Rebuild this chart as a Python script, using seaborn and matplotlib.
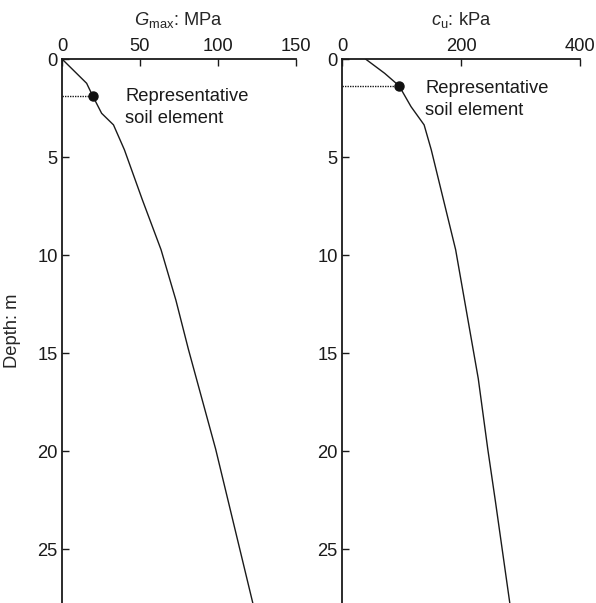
import matplotlib
matplotlib.use("Agg")
import matplotlib.pyplot as plt
import seaborn as sns
import pandas as pd

# Data
gmax_depth = [0, 1.24, 1.87, 2.77, 3.36, 4.63, 7.18, 9.73, 12.3, 14.8, 19.9, 27.75]
gmax_vals = [0, 15.8, 19.6, 25.4, 33.0, 40.0, 51.5, 63.5, 73.0, 81.0, 98.5, 122.3]
cu_depth = [0, 0.73, 1.37, 2.43, 3.36, 4.63, 9.73, 16.3, 19.9, 22.6, 27.75]
cu_vals = [39.5, 71.7, 96, 116, 138, 150, 191, 229, 245, 258, 282]
elem_gmax = (19.6, 1.87)
elem_cu = (96, 1.37)
gmax_ticks = [0, 50, 100, 150]
cu_ticks = [0, 200, 400]
depth_ticks = [0, 5, 10, 15, 20, 25]
annot = "Representative\nsoil element"

sns.set_theme(style="ticks")
plt.rcParams['font.family'] = ['Liberation Sans', 'DejaVu Sans']
plt.rcParams['mathtext.fontset'] = 'custom'
plt.rcParams['mathtext.rm'] = 'Liberation Sans'
plt.rcParams['mathtext.it'] = 'Liberation Sans:italic'

FS = 13.2
fig = plt.figure(figsize=(5.96, 6.03), dpi=100)
ax1 = fig.add_axes([62/596, 0.0, 234/596, 1 - 59/603])
ax2 = fig.add_axes([342/596, 0.0, 238/596, 1 - 59/603])

df1 = pd.DataFrame({"x": gmax_vals, "d": gmax_depth})
df2 = pd.DataFrame({"x": cu_vals, "d": cu_depth})

panels = [
    (ax1, df1, elem_gmax, gmax_ticks, (0, 150), r"$G_{\mathrm{max}}$: MPa", (0.27, 0.911)),
    (ax2, df2, elem_cu, cu_ticks, (0, 400), r"$c_{\mathrm{u}}$: kPa", (0.35, 0.9255)),
]
for ax, df, elem, xt, xl, xlab, tpos in panels:
    sns.lineplot(data=df, x="x", y="d", sort=False, estimator=None, ax=ax,
                 color="#1a1a1a", lw=1.0)
    ax.plot([0, elem[0]], [elem[1], elem[1]], ls=(0, (1, 0.8)), color="#1a1a1a", lw=1.0)
    ax.plot([elem[0]], [elem[1]], "o", color="#111111", ms=6.5)
    ax.set_xlim(*xl)
    ax.set_ylim(27.75, 0)
    ax.set_xticks(xt)
    ax.set_yticks(depth_ticks)
    ax.xaxis.tick_top()
    ax.xaxis.set_label_position("top")
    ax.set_xlabel(xlab, fontsize=FS, labelpad=9)
    ax.set_ylabel("")
    ax.tick_params(direction="in", length=5, width=1.0, labelsize=FS,
                   colors="#1a1a1a", pad=3)
    for s in ["bottom", "right"]:
        ax.spines[s].set_visible(False)
    for s in ["top", "left"]:
        ax.spines[s].set_linewidth(1.3)
        ax.spines[s].set_color("#1a1a1a")
    ax.text(tpos[0], tpos[1], annot, transform=ax.transAxes, fontsize=FS,
            va="center", ha="left", color="#1a1a1a", linespacing=1.35)

ax1.set_ylabel("Depth: m", fontsize=FS, labelpad=12)

fig.savefig("out.png", dpi=100)
